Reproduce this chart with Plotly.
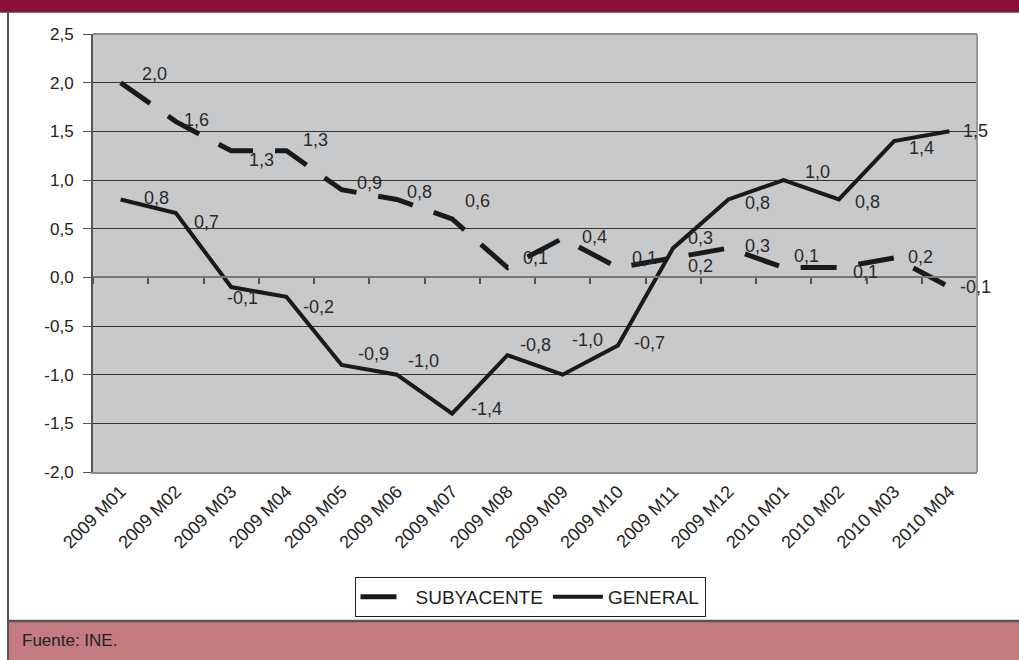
import plotly.graph_objects as go

# data
meses = ['2009 M01', '2009 M02', '2009 M03', '2009 M04', '2009 M05', '2009 M06',
         '2009 M07', '2009 M08', '2009 M09', '2009 M10', '2009 M11', '2009 M12',
         '2010 M01', '2010 M02', '2010 M03', '2010 M04']
subyacente = [2.0, 1.6, 1.3, 1.3, 0.9, 0.8, 0.6, 0.1, 0.4, 0.1, 0.2, 0.3, 0.1, 0.1, 0.2, -0.1]
general = [0.8, 0.66, -0.1, -0.2, -0.9, -1.0, -1.4, -0.8, -1.0, -0.7, 0.3, 0.8, 1.0, 0.8, 1.4, 1.5]
y_ticks = [-2.0, -1.5, -1.0, -0.5, 0.0, 0.5, 1.0, 1.5, 2.0, 2.5]

# label nudges (px) so the labels sit where the original puts them
sub_dx = [34, 21, 30, 29, 28, 23, 25, 28, 32, 27, 27, 29, 23, 27, 26, 26]
sub_dy = [9, 2, -9, 11, 7, 7, 18, 10, 1, 10, -8, 2, 12, -4, 1, 0]
gen_dx = [36, 31, 11, 32, 32, 27, 34, 28, 25, 32, 27, 29, 34, 29, 27, 26]
gen_dy = [1, -9, -11, -10, 11, 14, 5, 10, 35, 2, 10, -4, 8, -3, -7, 0]

FONT = 'Liberation Sans Narrow, Liberation Sans, Arial, sans-serif'
MAROON = '#8C0F3A'
FOOT = '#C37B80'


def fmt(v):
    # spanish decimal comma, plain hyphen for negatives
    return f'{v:.1f}'.replace('.', ',')


fig = go.Figure()

fig.add_trace(go.Scatter(
    x=meses, y=subyacente, name='SUBYACENTE', mode='lines',
    line=dict(color='#1a1a1a', width=5, dash='36px,22px'),
    hoverinfo='x+y',
))
fig.add_trace(go.Scatter(
    x=meses, y=general, name='GENERAL', mode='lines',
    line=dict(color='#1a1a1a', width=4),
    hoverinfo='x+y',
))

# data labels
for serie, dxs, dys in [(subyacente, sub_dx, sub_dy), (general, gen_dx, gen_dy)]:
    for m, v, dx, dy in zip(meses, serie, dxs, dys):
        fig.add_annotation(
            x=m, y=v, text=fmt(v), showarrow=False,
            xshift=dx, yshift=dy,
            font=dict(family=FONT, size=18, color='#2a2a2a'),
        )

# page decoration (px -> paper)
L, R, T, B = 93, 42, 34, 188
W, H = 1019, 660
pw, ph = W - L - R, H - T - B


def px_x(p):
    return (p - L) / pw


def px_y(p):
    return (H - B - p) / ph


shapes = [
    # top bar
    dict(type='rect', xref='paper', yref='paper', x0=px_x(0), x1=px_x(W),
         y0=px_y(12), y1=px_y(-2), fillcolor=MAROON, line=dict(width=0), layer='above'),
    dict(type='line', xref='paper', yref='paper', x0=px_x(0), x1=px_x(W),
         y0=px_y(12), y1=px_y(12), line=dict(color='#444', width=1.5)),
    # footer
    dict(type='rect', xref='paper', yref='paper', x0=px_x(8), x1=px_x(W + 2),
         y0=px_y(H + 2), y1=px_y(621), fillcolor=FOOT, line=dict(width=0)),
    dict(type='line', xref='paper', yref='paper', x0=px_x(8), x1=px_x(W),
         y0=px_y(621), y1=px_y(621), line=dict(color='#555', width=2.5)),
    # left border
    dict(type='line', xref='paper', yref='paper', x0=px_x(8), x1=px_x(8),
         y0=px_y(12), y1=px_y(H), line=dict(color='#555', width=2)),
    # plot area frame (top/right)
    dict(type='line', xref='paper', yref='paper', x0=0, x1=1, y0=1, y1=1,
         line=dict(color='#8a8a8a', width=2)),
    dict(type='line', xref='paper', yref='paper', x0=1, x1=1, y0=0, y1=1,
         line=dict(color='#9a9a9a', width=2)),
]

fig.add_annotation(
    xref='paper', yref='paper', x=px_x(20), y=px_y(640),
    xanchor='left', yanchor='middle', showarrow=False,
    text='Fuente: INE.', font=dict(family=FONT, size=17, color='#222'),
)

fig.update_layout(
    width=W, height=H,
    margin=dict(l=L, r=R, t=T, b=B, pad=0),
    paper_bgcolor='white',
    plot_bgcolor='#C8C9CB',
    separators=',.',
    font=dict(family=FONT, size=17, color='#333'),
    showlegend=True,
    legend=dict(
        orientation='h', x=px_x(530), y=px_y(597),
        xanchor='center', yanchor='middle',
        bordercolor='#222', borderwidth=1, bgcolor='white',
        font=dict(family=FONT, size=19, color='#222'),
        itemwidth=50, tracegroupgap=0,
    ),
    shapes=shapes,
    xaxis=dict(
        type='category', categoryorder='array', categoryarray=meses,
        range=[-0.5, len(meses) - 0.5],
        tickangle=-45, showgrid=False, zeroline=False,
        showline=True, linecolor='#8a8a8a', linewidth=2,
        ticks='', tickfont=dict(family=FONT, size=18, color='#222'),
        fixedrange=True,
    ),
    xaxis2=dict(
        overlaying='x', anchor='free', position=(0 - y_ticks[0]) / (y_ticks[-1] - y_ticks[0]),
        range=[-0.5, len(meses) - 0.5], tick0=0.5, dtick=1,
        ticks='outside', ticklen=6, tickcolor='#555', tickwidth=1.5,
        showticklabels=False, showgrid=False, zeroline=False,
        showline=True, linecolor='#777', linewidth=2,
        fixedrange=True,
    ),
    yaxis=dict(
        range=[y_ticks[0], y_ticks[-1]], tickvals=y_ticks,
        ticktext=[fmt(v) for v in y_ticks],
        showgrid=True, gridcolor='#333', gridwidth=1, zeroline=False,
        showline=True, linecolor='#555', linewidth=2,
        ticks='outside', ticklen=8, tickcolor='#555', ticklabelstandoff=6,
        tickfont=dict(family=FONT, size=17, color='#222'),
        fixedrange=True,
    ),
)

# dummy trace so the second x axis (zero line with ticks) is drawn
fig.add_trace(go.Scatter(x=[None], y=[None], xaxis='x2', showlegend=False, hoverinfo='skip'))

# drop the default page margin so the figure sits at the window's corner
fig.write_html('out.html', config={'displayModeBar': False},
               post_script="document.body.style.margin='0';")
